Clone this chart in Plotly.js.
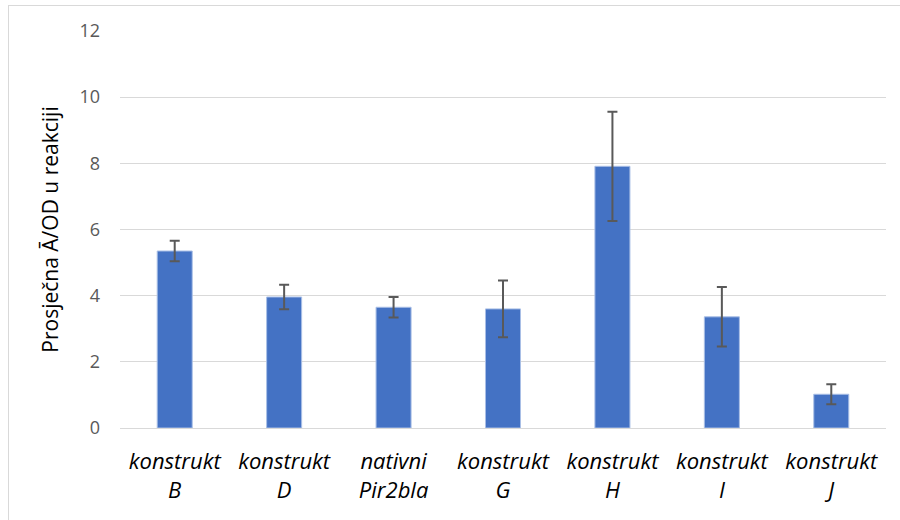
<!DOCTYPE html>
<html>
<head>
<meta charset="utf-8">
<script src="https://cdn.plot.ly/plotly-3.0.1.min.js"></script>
<style>
  html, body { margin: 0; padding: 0; background: #fff; }
  #frame { position: absolute; left: 8px; top: 5px; width: 900px; height: 530px; border: 1px solid #d9d9d9; box-sizing: border-box; }
  #chart { position: absolute; left: 0; top: 0; width: 900px; height: 520px; }
</style>
</head>
<body>
<div id="frame"></div>
<div id="chart"></div>
<script>
const categories = [
  "<i>konstrukt</i><br><i>B</i>",
  "<i>konstrukt</i><br><i>D</i>",
  "<i>nativni</i><br><i>Pir2bla</i>",
  "<i>konstrukt</i><br><i>G</i>",
  "<i>konstrukt</i><br><i>H</i>",
  "<i>konstrukt</i><br><i>I</i>",
  "<i>konstrukt</i><br><i>J</i>"
];
const means = [5.35, 3.96, 3.65, 3.6, 7.91, 3.36, 1.02];
const errors = [0.31, 0.37, 0.31, 0.86, 1.65, 0.9, 0.3];
const yTicks = [0, 2, 4, 6, 8, 10, 12];
const yTitle = "Prosječna Ā/OD u reakciji";

const fontFam = "'Open Sans', 'Noto Sans', sans-serif";

Plotly.newPlot("chart", [{
  type: "bar",
  x: categories,
  y: means,
  marker: { color: "#4472c4", line: { color: "#a9bfe6", width: 1 } },
  error_y: { type: "data", array: errors, visible: true, color: "#595959", thickness: 2, width: 5 },
  hoverinfo: "none"
}], {
  width: 900, height: 520,
  margin: { l: 120, r: 14, t: 31, b: 92 },
  paper_bgcolor: "rgba(0,0,0,0)",
  plot_bgcolor: "#fff",
  bargap: 0.68,
  showlegend: false,
  xaxis: {
    type: "category",
    showgrid: false,
    showline: false,
    zeroline: false,
    ticks: "outside", ticklen: 14, tickcolor: "rgba(0,0,0,0)",
    tickfont: { family: fontFam, size: 22, color: "#000" }
  },
  yaxis: {
    range: [0, 12],
    tickvals: yTicks,
    showgrid: true, gridcolor: "#d9d9d9", gridwidth: 1,
    zeroline: true, zerolinecolor: "#d9d9d9", zerolinewidth: 1,
    showline: false,
    ticks: "", ticklabelstandoff: 19,
    tickfont: { family: fontFam, size: 18, color: "#595959" },
    title: { text: yTitle, font: { family: fontFam, size: 21, color: "#000" }, standoff: 15 }
  }
}, { displayModeBar: false, staticPlot: true });
</script>
</body>
</html>
